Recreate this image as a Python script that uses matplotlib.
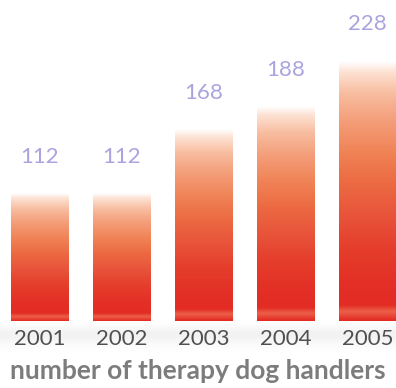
import numpy as np
import matplotlib
matplotlib.use('Agg')
import matplotlib.pyplot as plt
from matplotlib.colors import LinearSegmentedColormap

years = ['2001', '2002', '2003', '2004', '2005']
handlers = [112, 112, 168, 188, 228]
title = 'number of therapy dog handlers'

W, H = 396, 388
fig = plt.figure(figsize=(W / 100, H / 100), dpi=100)

# soft grey shadow under the bars (drawn behind everything)
shade = fig.add_axes([0, (H - 352) / H, 1, 31 / H], zorder=-1)
shade.imshow(np.array([[0.0], [1.0], [0.6], [0.0]]), extent=[0, 1, 0, 1],
             aspect='auto', cmap=LinearSegmentedColormap.from_list(
                 'sh', ['#ffffff', '#efefef']), interpolation='bicubic')
shade.axis('off')

# axes placed so that the baseline sits at ~321 px from the top
ax = fig.add_axes([0, (H - 321) / H, 1, 319 / H])
ax.axis('off')

cmap = LinearSegmentedColormap.from_list('bar', [
    (0.00, '#ffffff'),
    (0.04, '#fde2d4'),
    (0.12, '#f8bea1'),
    (0.22, '#f4a07c'),
    (0.35, '#f08356'),
    (0.47, '#ec6a42'),
    (0.60, '#e8533a'),
    (0.72, '#e53e2c'),
    (0.85, '#e33026'),
    (0.94, '#e32c24'),
    (0.965, '#ec6048'),
    (1.00, '#e22a22'),
])
grad = np.linspace(0, 1, 256).reshape(-1, 1)

width = 0.70
for i, (yr, v) in enumerate(zip(years, handlers)):
    ax.imshow(grad, extent=[i - width / 2, i + width / 2, 0, v],
              aspect='auto', cmap=cmap, interpolation='bicubic', zorder=2)
    ax.annotate(str(v), (i, v), xytext=(0, 26.5), textcoords='offset points',
                ha='center', va='center', fontsize=16, color='#aaa4de',
                family='Lato', annotation_clip=False)
    ax.annotate(yr, (i, 0), xytext=(0, -13), textcoords='offset points',
                ha='center', va='center', fontsize=16, color='#505050',
                family='Lato', annotation_clip=False)

ax.set_xlim(-0.488, 4.347)
ax.set_ylim(0, 280)

fig.text(0.5, (H - 371) / H, title, ha='center', va='center',
         fontsize=19, color='#7c7c7c', family='Lato', weight='bold')

fig.savefig('out.png', dpi=100)
